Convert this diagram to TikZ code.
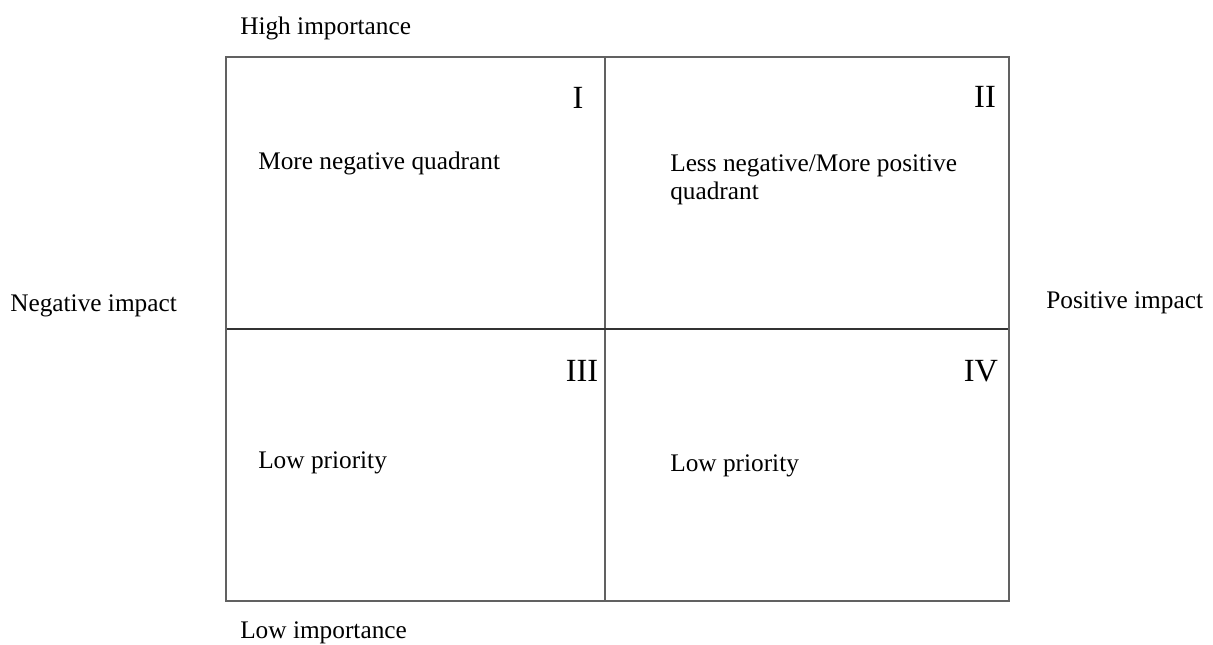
\documentclass[tikz,border=0pt]{standalone}
\usepackage{fontspec}
\setmainfont{Liberation Serif}
\usepackage{tikz}
\usetikzlibrary{positioning}

\begin{document}
\begin{tikzpicture}[x=0.025cm,y=-0.025cm,
  lbl/.style={anchor=west,inner sep=0pt,font=\fontsize{18}{20}\selectfont},
  numeral/.style={inner sep=0pt,font=\fontsize{23}{25}\selectfont},
  frame/.style={draw=black!62,line width=1.4pt},
  divider/.style={line width=1.1pt}]
% ---- page: 1213 x 645, y runs downwards
\useasboundingbox (0,0) rectangle (1213,645);
% ---- geometry of the grid
\def\xa{226} \def\xb{605} \def\xc{1009}
\def\ya{57}  \def\yb{329} \def\yc{601}
% ---- dividers
\draw[divider,draw=black!62] (\xb,\ya) -- (\xb,\yc);
\draw[divider,draw=black!80] (\xa,\yb) -- (\xc,\yb);
% ---- outer frame
\draw[frame] (\xa,\ya) rectangle (\xc,\yc);
% ---- quadrant numerals
\node[numeral] (nI)   at (578,98)  {I};
\node[numeral] (nII)  at (985,97)  {II};
\node[numeral] (nIII) at (582,371) {III};
\node[numeral] (nIV)  at (981,371) {IV};
% ---- quadrant texts
\node[lbl] (qI) at (258,163) {More negative quadrant};
\node[lbl,anchor=north west,align=left,font=\fontsize{18}{20}\selectfont] (qII) at (670,154)
  {Less negative/More positive\\quadrant};
\node[lbl] (qIII) at (258,463) {Low priority};
\node[lbl] (qIV)  at (670,466) {Low priority};
% ---- axis labels
\node[lbl] (high) at (240,28)  {High importance};
\node[lbl] (low)  at (240,633) {Low importance};
\node[lbl] (neg)  at (10,306)  {Negative impact};
\node[lbl] (pos)  at (1046,303) {Positive impact};
\end{tikzpicture}
\end{document}
